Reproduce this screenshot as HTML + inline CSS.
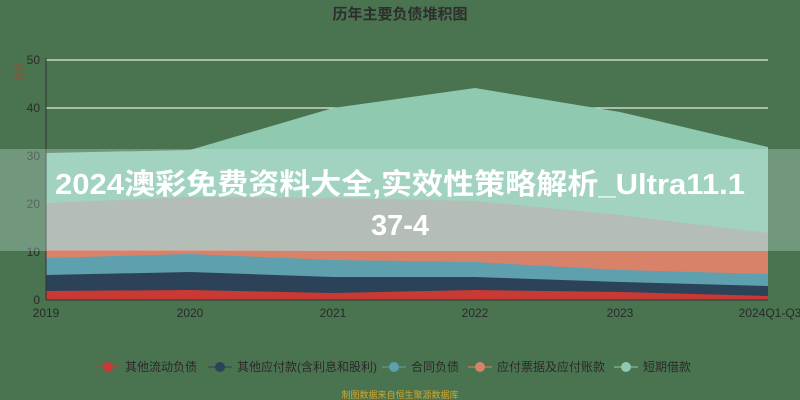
<!DOCTYPE html>
<html><head><meta charset="utf-8"><style>
body{margin:0;width:800px;height:400px;overflow:hidden;background:#4a7350;font-family:"Liberation Sans","Noto Sans CJK SC",sans-serif}
</style></head><body>
<svg width="800" height="400" xmlns="http://www.w3.org/2000/svg" style="position:absolute;left:0;top:0">
<rect width="800" height="400" fill="#4a7350"/>
<text x="400" y="19" text-anchor="middle" font-size="15" font-weight="bold" fill="#2e2e2e" font-family="Liberation Sans,Noto Sans CJK SC,sans-serif">历年主要负债堆积图</text>
<text x="16" y="72" font-size="10" fill="#c0392b" transform="rotate(90 16 72)" text-anchor="middle" font-family="Liberation Sans,Noto Sans CJK SC,sans-serif">(亿)</text>
<line x1="46" y1="60" x2="768" y2="60" stroke="#dfeee0" stroke-width="1.2"/>
<line x1="46" y1="108" x2="768" y2="108" stroke="#dfeee0" stroke-width="1.2"/>
<polygon fill="#8fc9b0" points="46,153 190,150 333,108 475,88 620,112 768,147 768,300 46,300"/>
<polygon fill="#aaaaa2" points="46,203 190,197 333,198 475,201 620,215 768,233 768,300 46,300"/>
<polygon fill="#d9826a" points="46,250 190,250 333,251 475,251 620,251 768,251 768,300 46,300"/>
<polygon fill="#5fa0ae" points="46,258 190,254 333,260 475,262 620,270 768,274 768,300 46,300"/>
<polygon fill="#2c4259" points="46,275 190,272 333,277 475,277 620,282 768,286 768,300 46,300"/>
<polygon fill="#c93a35" points="46,291 190,290 333,293 475,290 620,292 768,296 768,300 46,300"/>
<line x1="46" y1="58" x2="46" y2="300" stroke="#333" stroke-width="1"/>
<line x1="46" y1="300" x2="768" y2="300" stroke="#333" stroke-width="1"/>
<g font-size="12" fill="#2a2a2a" text-anchor="end" font-family="Liberation Sans,sans-serif">
<text x="40" y="64">50</text><text x="40" y="112">40</text><text x="40" y="160">30</text><text x="40" y="208">20</text><text x="40" y="256">10</text><text x="40" y="304">0</text>
</g>
<g font-size="12" fill="#2a2a2a" text-anchor="middle" font-family="Liberation Sans,sans-serif">
<text x="46" y="317">2019</text><text x="190" y="317">2020</text><text x="333" y="317">2021</text><text x="475" y="317">2022</text><text x="620" y="317">2023</text><text x="770" y="317">2024Q1-Q3</text>
</g>
<rect x="0" y="149" width="800" height="102" fill="rgba(205,235,230,0.3)"/>
<text x="55" y="194" font-size="29" font-weight="bold" fill="#fff" textLength="690" lengthAdjust="spacingAndGlyphs" font-family="Liberation Sans,Noto Sans CJK SC,sans-serif">2024澳彩免费资料大全,实效性策略解析_Ultra11.1</text>
<text x="400" y="235" text-anchor="middle" font-size="29" font-weight="bold" fill="#fff" font-family="Liberation Sans,Noto Sans CJK SC,sans-serif">37-4</text>
<g font-size="12" fill="#2a2a2a" font-family="Liberation Sans,Noto Sans CJK SC,sans-serif">
<line x1="97" y1="367" x2="120" y2="367" stroke="#c93a35"/><circle cx="108" cy="367" r="5" fill="#c93a35"/><text x="125" y="371">其他流动负债</text>
<line x1="208" y1="367" x2="232" y2="367" stroke="#2c4259"/><circle cx="220" cy="367" r="5" fill="#2c4259"/><text x="237" y="371">其他应付款(含利息和股利)</text>
<line x1="382" y1="367" x2="406" y2="367" stroke="#5fa0ae"/><circle cx="394" cy="367" r="5" fill="#5fa0ae"/><text x="411" y="371">合同负债</text>
<line x1="468" y1="367" x2="492" y2="367" stroke="#d9826a"/><circle cx="480" cy="367" r="5" fill="#d9826a"/><text x="497" y="371">应付票据及应付账款</text>
<line x1="614" y1="367" x2="638" y2="367" stroke="#8fc9b0"/><circle cx="626" cy="367" r="5" fill="#8fc9b0"/><text x="643" y="371">短期借款</text>
</g>
<text x="400" y="398" text-anchor="middle" font-size="9" fill="#d4a62a" font-family="Liberation Sans,Noto Sans CJK SC,sans-serif">制图数据来自恒生聚源数据库</text>
</svg>
</body></html>
